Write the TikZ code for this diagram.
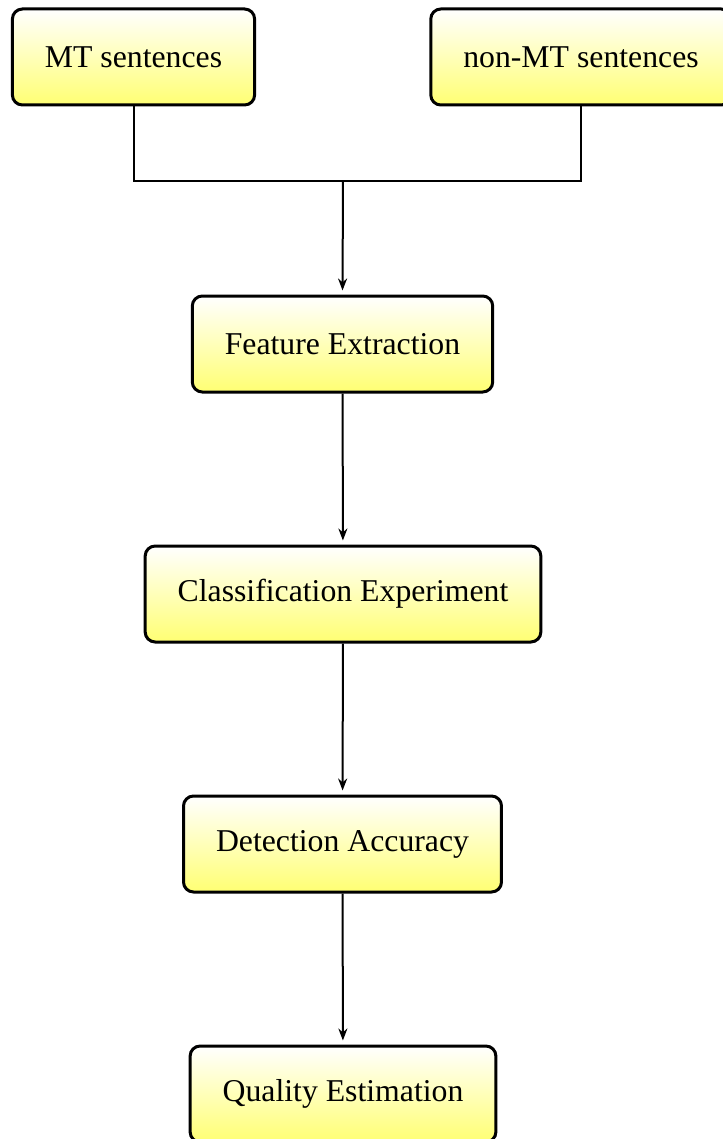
\documentclass[tikz,border=0pt]{standalone}
\usepackage{fontspec}
\setmainfont{Liberation Serif}
\usetikzlibrary{arrows.meta}

\tikzset{
  stepbox/.style={draw, line width=1.2pt, rounded corners=4pt,
    top color=white, bottom color=yellow!55,
    minimum height=38.4pt, inner xsep=13pt,
    font=\fontsize{12.7}{15}\selectfont},
  flow/.style={line width=0.8pt, -{Stealth[length=4.8pt,width=3.6pt]}, shorten >=1.6pt}
}

\begin{document}
\begin{tikzpicture}[x=0.4pt,y=-0.4pt]
\useasboundingbox (0,0) rectangle (722,1139);
\node [stepbox] (mt) at (133.5,57) {MT sentences};
\node [stepbox] (nonmt) at (581,57) {non-MT sentences};
\node [stepbox] (feat) at (342.5,344) {Feature Extraction};
\node [stepbox] (clf) at (343,594) {Classification Experiment};
\node [stepbox] (acc) at (342.5,844) {Detection Accuracy};
\node [stepbox] (qe) at (343,1094) {Quality Estimation};
\coordinate (join) at (343,181);
% both inputs merge here
\draw [line width=0.8pt] (mt.south) |- (join) -| (nonmt.south);
\draw [flow] (join) -- (feat.north);
\draw [flow] (feat) -- (clf);
\draw [flow] (clf) -- (acc);
\draw [flow] (acc) -- (qe);
\end{tikzpicture}
\end{document}
